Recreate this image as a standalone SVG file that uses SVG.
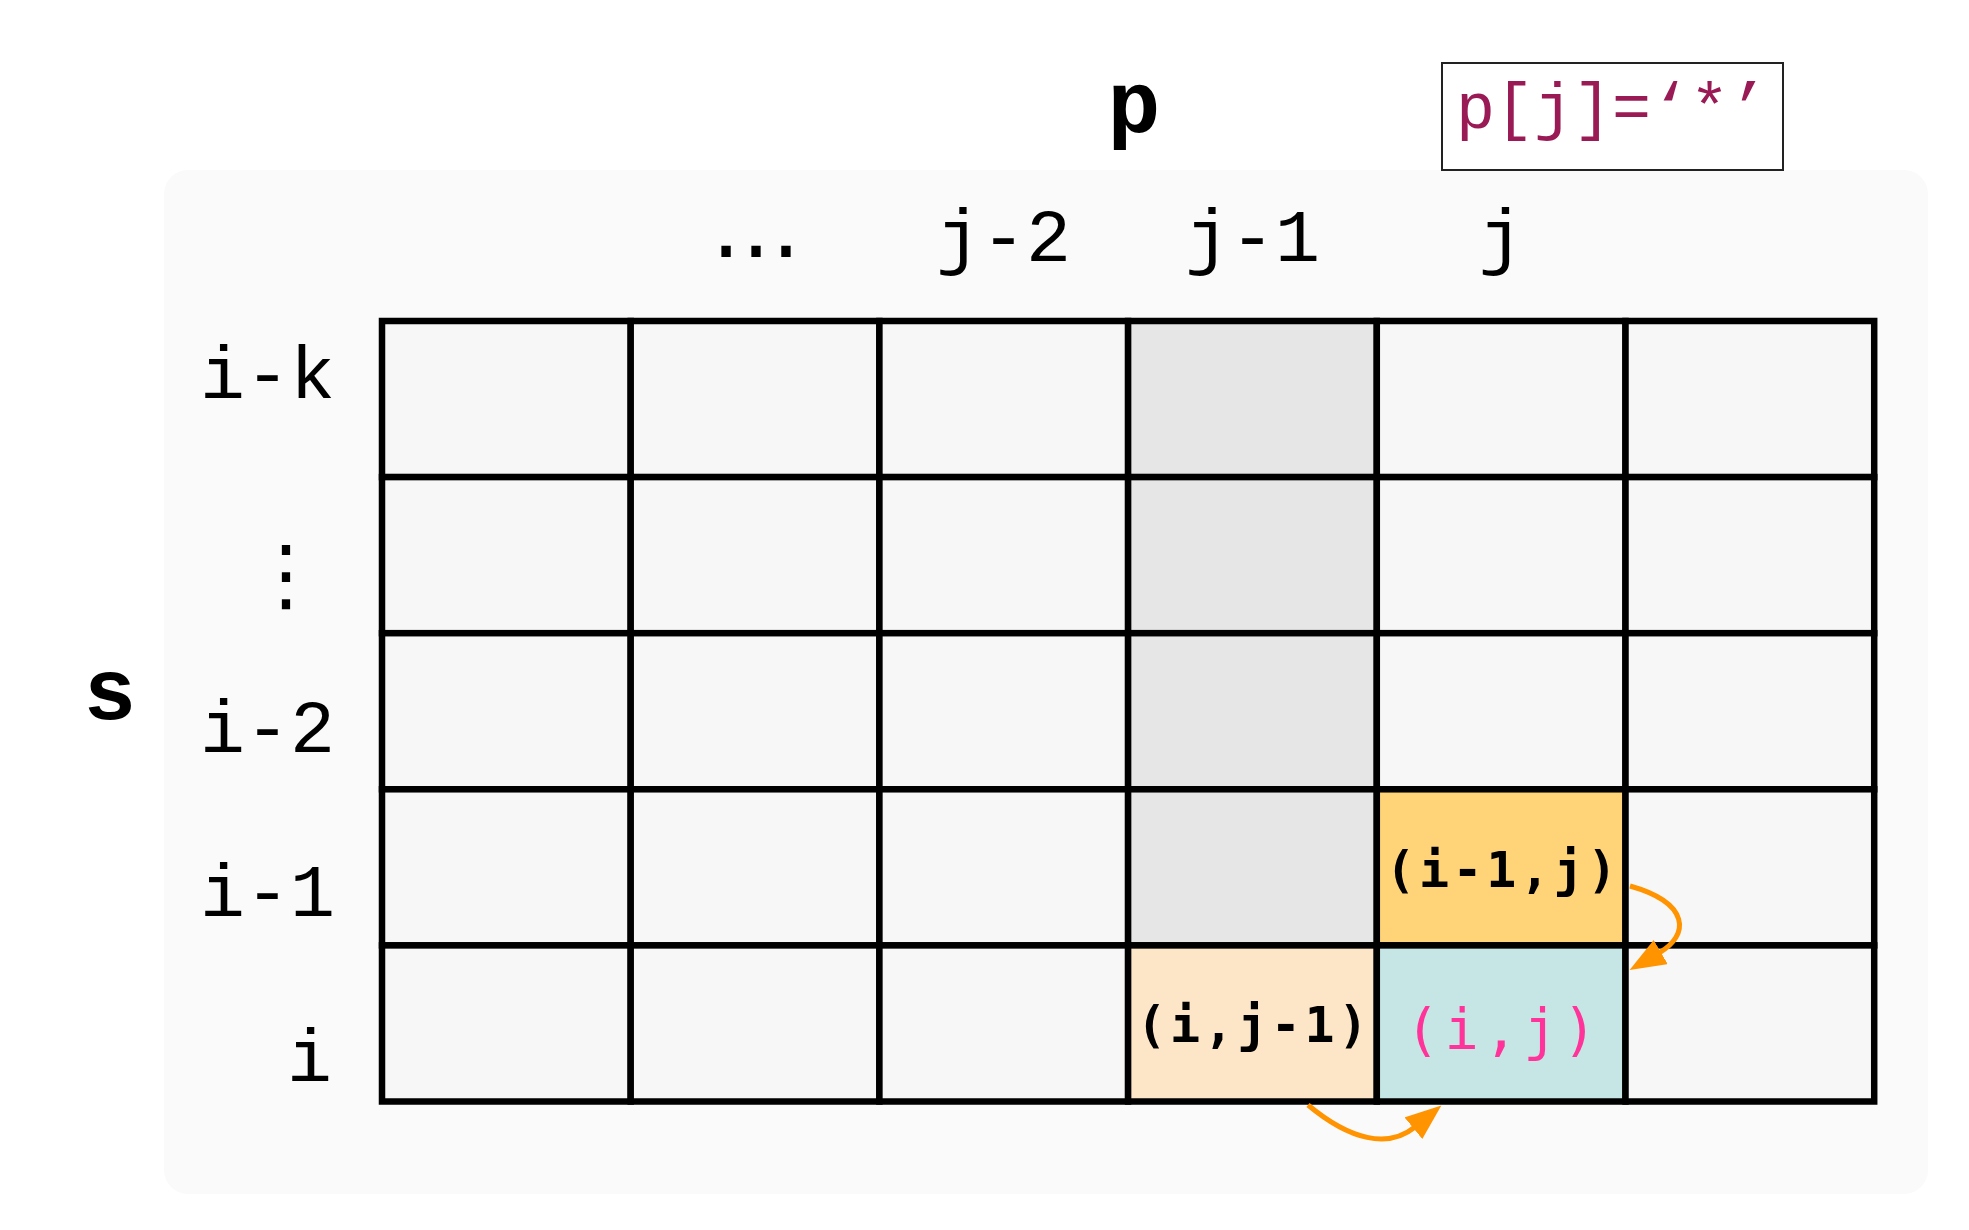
<svg xmlns="http://www.w3.org/2000/svg" width="1969" height="1230" viewBox="0 0 1969 1230">
<style>
.cell{stroke:#000;stroke-width:6.5;stroke-linejoin:miter}
.n{fill:#f7f7f7}.g{fill:#e6e6e6}.up{fill:#ffd479}.lf{fill:#fde6c8}.cur{fill:#c6e5e5}
.lbl{font-family:"Courier New","Liberation Mono",monospace;font-size:75px;fill:#000}
.big{font-family:"Courier New","Liberation Mono",monospace;font-size:88px;font-weight:bold;fill:#000}
.ct{font-family:"DejaVu Sans Mono",monospace;font-size:50px;font-weight:bold;fill:#000;letter-spacing:3.5px;text-anchor:middle}
.cp{font-family:"DejaVu Sans Mono",monospace;font-size:57px;fill:#ff3399;letter-spacing:5px;text-anchor:middle}
.arr{fill:none;stroke:#ff9400;stroke-width:5;marker-end:url(#ah)}
</style>
<defs>
<marker id="ah" markerUnits="userSpaceOnUse" markerWidth="38" markerHeight="30" refX="2" refY="14" orient="auto">
<path d="M0,0 L36,14 L0,28 Z" fill="#ff9400"/>
</marker>
</defs>
<rect x="0" y="0" width="1969" height="1230" fill="#ffffff"/>
<rect id="panel" x="164" y="170" width="1764" height="1024" rx="24" fill="#fafafa"/>

<g id="title-p"><text class="big" x="1134" y="132" text-anchor="middle">p</text></g>
<g id="note">
<rect x="1442" y="63" width="341" height="107" fill="#ffffff" stroke="#222" stroke-width="2"/>
<text x="1456" y="128" font-family="'Courier New','Liberation Mono',monospace" font-size="65" fill="#991a55">p[j]=‘*’</text>
</g>
<g id="title-s"><text class="big" x="110" y="719" text-anchor="middle">s</text></g>

<g id="col-headers">
<text x="756" y="257" font-family="'DejaVu Sans',sans-serif" font-size="90" text-anchor="middle">…</text>
<text class="lbl" x="1003.5" y="261" text-anchor="middle">j-2</text>
<text class="lbl" x="1252.4" y="261" text-anchor="middle">j-1</text>
<text class="lbl" x="1501" y="261" text-anchor="middle">j</text>
</g>
<g id="row-headers">
<text class="lbl" x="200" y="398">i-k</text>
<text x="286" y="602" font-family="'DejaVu Sans',sans-serif" font-size="80" text-anchor="middle">⋮</text>
<text class="lbl" x="200" y="752">i-2</text>
<text class="lbl" x="200" y="916">i-1</text>
<text class="lbl" x="287" y="1081">i</text>
</g>

<g id="grid">
<g id="r0c0"><rect class="cell n" x="382" y="321" width="248.7" height="156.1"/></g>
<g id="r0c1"><rect class="cell n" x="630.7" y="321" width="248.7" height="156.1"/></g>
<g id="r0c2"><rect class="cell n" x="879.4" y="321" width="248.7" height="156.1"/></g>
<g id="r0c3"><rect class="cell g" x="1128.1" y="321" width="248.7" height="156.1"/></g>
<g id="r0c4"><rect class="cell n" x="1376.8" y="321" width="248.7" height="156.1"/></g>
<g id="r0c5"><rect class="cell n" x="1625.5" y="321" width="248.7" height="156.1"/></g>

<g id="r1c0"><rect class="cell n" x="382" y="477.1" width="248.7" height="156.1"/></g>
<g id="r1c1"><rect class="cell n" x="630.7" y="477.1" width="248.7" height="156.1"/></g>
<g id="r1c2"><rect class="cell n" x="879.4" y="477.1" width="248.7" height="156.1"/></g>
<g id="r1c3"><rect class="cell g" x="1128.1" y="477.1" width="248.7" height="156.1"/></g>
<g id="r1c4"><rect class="cell n" x="1376.8" y="477.1" width="248.7" height="156.1"/></g>
<g id="r1c5"><rect class="cell n" x="1625.5" y="477.1" width="248.7" height="156.1"/></g>

<g id="r2c0"><rect class="cell n" x="382" y="633.2" width="248.7" height="156.1"/></g>
<g id="r2c1"><rect class="cell n" x="630.7" y="633.2" width="248.7" height="156.1"/></g>
<g id="r2c2"><rect class="cell n" x="879.4" y="633.2" width="248.7" height="156.1"/></g>
<g id="r2c3"><rect class="cell g" x="1128.1" y="633.2" width="248.7" height="156.1"/></g>
<g id="r2c4"><rect class="cell n" x="1376.8" y="633.2" width="248.7" height="156.1"/></g>
<g id="r2c5"><rect class="cell n" x="1625.5" y="633.2" width="248.7" height="156.1"/></g>

<g id="r3c0"><rect class="cell n" x="382" y="789.3" width="248.7" height="156.1"/></g>
<g id="r3c1"><rect class="cell n" x="630.7" y="789.3" width="248.7" height="156.1"/></g>
<g id="r3c2"><rect class="cell n" x="879.4" y="789.3" width="248.7" height="156.1"/></g>
<g id="r3c3"><rect class="cell g" x="1128.1" y="789.3" width="248.7" height="156.1"/></g>
<g id="r3c4"><rect class="cell up" x="1376.8" y="789.3" width="248.7" height="156.1"/><text class="ct" x="1503" y="887">(i-1,j)</text></g>
<g id="r3c5"><rect class="cell n" x="1625.5" y="789.3" width="248.7" height="156.1"/></g>

<g id="r4c0"><rect class="cell n" x="382" y="945.4" width="248.7" height="156.1"/></g>
<g id="r4c1"><rect class="cell n" x="630.7" y="945.4" width="248.7" height="156.1"/></g>
<g id="r4c2"><rect class="cell n" x="879.4" y="945.4" width="248.7" height="156.1"/></g>
<g id="r4c3"><rect class="cell lf" x="1128.1" y="945.4" width="248.7" height="156.1"/><text class="ct" x="1254" y="1042">(i,j-1)</text></g>
<g id="r4c4"><rect class="cell cur" x="1376.8" y="945.4" width="248.7" height="156.1"/><text class="cp" x="1503.5" y="1049">(i,j)</text></g>
<g id="r4c5"><rect class="cell n" x="1625.5" y="945.4" width="248.7" height="156.1"/></g>
</g>

<g id="connectors">
<path class="arr" d="M1630,886 C1690,903 1690,935 1659,953"/>
<path class="arr" d="M1308,1105 C1350,1140 1388,1149 1415,1127"/>
</g>
</svg>
